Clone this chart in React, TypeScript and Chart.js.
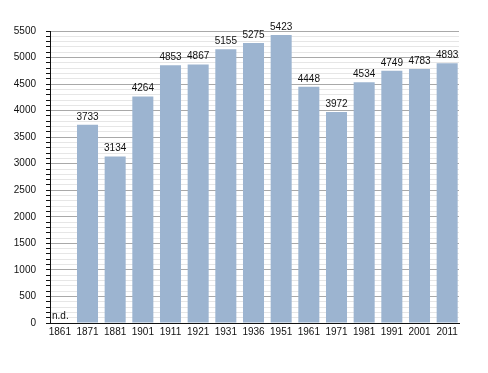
import React, { useEffect, useRef } from "react";
import { Chart, registerables } from "chart.js";

Chart.register(...registerables);

const categories = ["1861", "1871", "1881", "1901", "1911", "1921", "1931", "1936", "1951", "1961", "1971", "1981", "1991", "2001", "2011"];
const population: (number | null)[] = [null, 3733, 3134, 4264, 4853, 4867, 5155, 5275, 5423, 4448, 3972, 4534, 4749, 4783, 4893];
const missingLabel = "n.d.";

const FONT = "'Liberation Sans', Arial, Helvetica, sans-serif";

const bandShiftPlugin = {
  id: "bandShift",
  afterLayout(chart: any) {
    const s = chart.scales.x;
    // category band starts slightly left of the y axis line, as in the reference
    s._startPixel = s.left - 4;
    s._endPixel = s.right + 2;
    s._length = s._endPixel - s._startPixel;
  },
};

const labelPlugin = {
  id: "valueLabels",
  afterDatasetsDraw(chart: any) {
    const ctx = chart.ctx;
    const meta = chart.getDatasetMeta(0);
    ctx.save();
    ctx.font = `10px ${FONT}`;
    ctx.fillStyle = "#111";
    meta.data.forEach((bar: any, i: number) => {
      const v = population[i];
      if (v == null) {
        ctx.textAlign = "left";
        ctx.textBaseline = "alphabetic";
        ctx.fillText(missingLabel, chart.chartArea.left + 2, chart.chartArea.bottom - 4);
      } else {
        ctx.textAlign = "center";
        ctx.textBaseline = "bottom";
        ctx.fillText(String(v), bar.x, bar.y - 3);
      }
    });
    ctx.restore();
  },
};

export default function App() {
  const ref = useRef<HTMLCanvasElement | null>(null);
  useEffect(() => {
    document.body.style.margin = "0";
    const chart = new Chart(ref.current!, {
      type: "bar",
      data: {
        labels: categories,
        datasets: [
          {
            data: population as any,
            backgroundColor: "#9cb4d0",
            borderWidth: 0,
            barPercentage: 0.76,
            categoryPercentage: 1,
          },
        ],
      },
      options: {
        animation: false,
        responsive: false,
        maintainAspectRatio: false,
        layout: { padding: { top: 31, right: 29, bottom: 0, left: 0 } },
        plugins: { legend: { display: false }, tooltip: { enabled: false } },
        scales: {
          x: {
            grid: { display: false, drawTicks: false },
            border: { color: "#111", width: 1 },
            ticks: { font: { size: 10, family: FONT }, color: "#111", padding: 3, maxRotation: 0, autoSkip: false },
            afterFit: (s: any) => { s.height = 50; },
          },
          y: {
            min: 0,
            max: 5500,
            border: { color: "#111", width: 1 },
            grid: {
              color: (c: any) => (c.tick && c.tick.value % 500 === 0 ? "#a9a9a9" : "#e6e6e6"),
              tickColor: "#111",
              tickLength: 4,
            },
            ticks: {
              stepSize: 100,
              autoSkip: false,
              font: { size: 10, family: FONT },
              color: "#111",
              padding: 10,
              callback: (v: any) => (Number(v) % 500 === 0 ? String(v) : ""),
            },
            afterFit: (s: any) => { s.width = 50; },
          },
        },
      },
      plugins: [bandShiftPlugin, labelPlugin],
    });
    return () => chart.destroy();
  }, []);
  return (
    <div style={{ position: "fixed", left: 0, top: 0, width: 488, height: 373 }}>
      <canvas ref={ref} width={488} height={373} style={{ width: 488, height: 373 }} />
    </div>
  );
}
